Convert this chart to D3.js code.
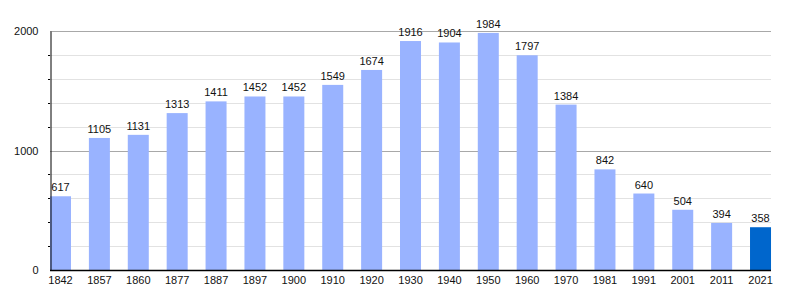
<!DOCTYPE html>
<html><head><meta charset="utf-8">
<script src="https://cdn.jsdelivr.net/npm/d3@7"></script>
<style>body{margin:0;background:#fff}svg{display:block;font-family:"Liberation Sans",Arial,sans-serif}</style>
</head><body><svg id="c" width="800" height="300"></svg>
<script>
const years = ["1842","1857","1860","1877","1887","1897","1900","1910","1920","1930","1940","1950","1960","1970","1981","1991","2001","2011","2021"];
const population = [617,1105,1131,1313,1411,1452,1452,1549,1674,1916,1904,1984,1797,1384,842,640,504,394,358];
const yTicks = [0,1000,2000];
const minorTicks = [200,400,600,800,1200,1400,1600,1800];

(function(){
const svg = d3.select("#c");
const mLeft = 50, mRight = 771, mTop = 31, mBottom = 270;
const x = d3.scaleBand().domain(years).range([mLeft, mLeft + 19*38.89]).padding(0);
const barW = 21;
const y = d3.scaleLinear().domain([0,2000]).range([mBottom, mTop]);

svg.append("g").selectAll("line").data(minorTicks).join("line")
  .attr("x1", mLeft).attr("x2", mRight)
  .attr("y1", d => Math.round(y(d)) + 0.5).attr("y2", d => Math.round(y(d)) + 0.5)
  .attr("stroke", "#e2e2e2").attr("stroke-width", 1);
svg.append("g").selectAll("line").data(yTicks.filter(d => d > 0)).join("line")
  .attr("x1", mLeft).attr("x2", mRight)
  .attr("y1", d => Math.round(y(d)) + 0.5).attr("y2", d => Math.round(y(d)) + 0.5)
  .attr("stroke", "#a8a8a8").attr("stroke-width", 1);

svg.append("g").selectAll("rect").data(population).join("rect")
  .attr("x", (d,i) => x(years[i]))
  .attr("y", d => y(d))
  .attr("width", barW)
  .attr("height", d => mBottom - y(d))
  .attr("fill", (d,i) => i === years.length - 1 ? "#0066cc" : "#99b3ff");

svg.append("g").selectAll("text").data(population).join("text")
  .attr("x", (d,i) => x(years[i]) + barW/2)
  .attr("y", d => y(d) - 5)
  .attr("text-anchor", "middle")
  .attr("font-size", 11).attr("fill", "#111")
  .text(d => d);

const yAxis = d3.axisLeft(y).tickValues(yTicks).tickFormat(d3.format("d")).tickSize(0).tickPadding(12);
const gy = svg.append("g").attr("transform", `translate(${mLeft + 0.5},0)`).call(yAxis);
gy.select(".domain").attr("stroke", "#000");
gy.selectAll("text").attr("font-size", 11).attr("fill", "#111").attr("font-family", "Liberation Sans, Arial, sans-serif");
svg.append("g").selectAll("line").data(minorTicks).join("line")
  .attr("x1", mLeft - 2).attr("x2", mLeft)
  .attr("y1", d => Math.round(y(d)) + 0.5).attr("y2", d => Math.round(y(d)) + 0.5)
  .attr("stroke", "#000");

const xAxis = d3.axisBottom(x).tickSize(0).tickPadding(6).tickSizeOuter(0);
const gx = svg.append("g").attr("transform", `translate(0,${mBottom})`).call(xAxis);
gx.select(".domain").remove();
gx.selectAll(".tick").attr("transform", d => `translate(${x(d) + barW/2},0)`);
gx.selectAll("text").attr("font-size", 11).attr("fill", "#111").attr("font-family", "Liberation Sans, Arial, sans-serif");
svg.append("line").attr("x1", mLeft).attr("x2", mRight).attr("y1", mBottom + 0.5).attr("y2", mBottom + 0.5)
  .attr("stroke", "#000").attr("stroke-width", 1.5);
})();
</script></body></html>
